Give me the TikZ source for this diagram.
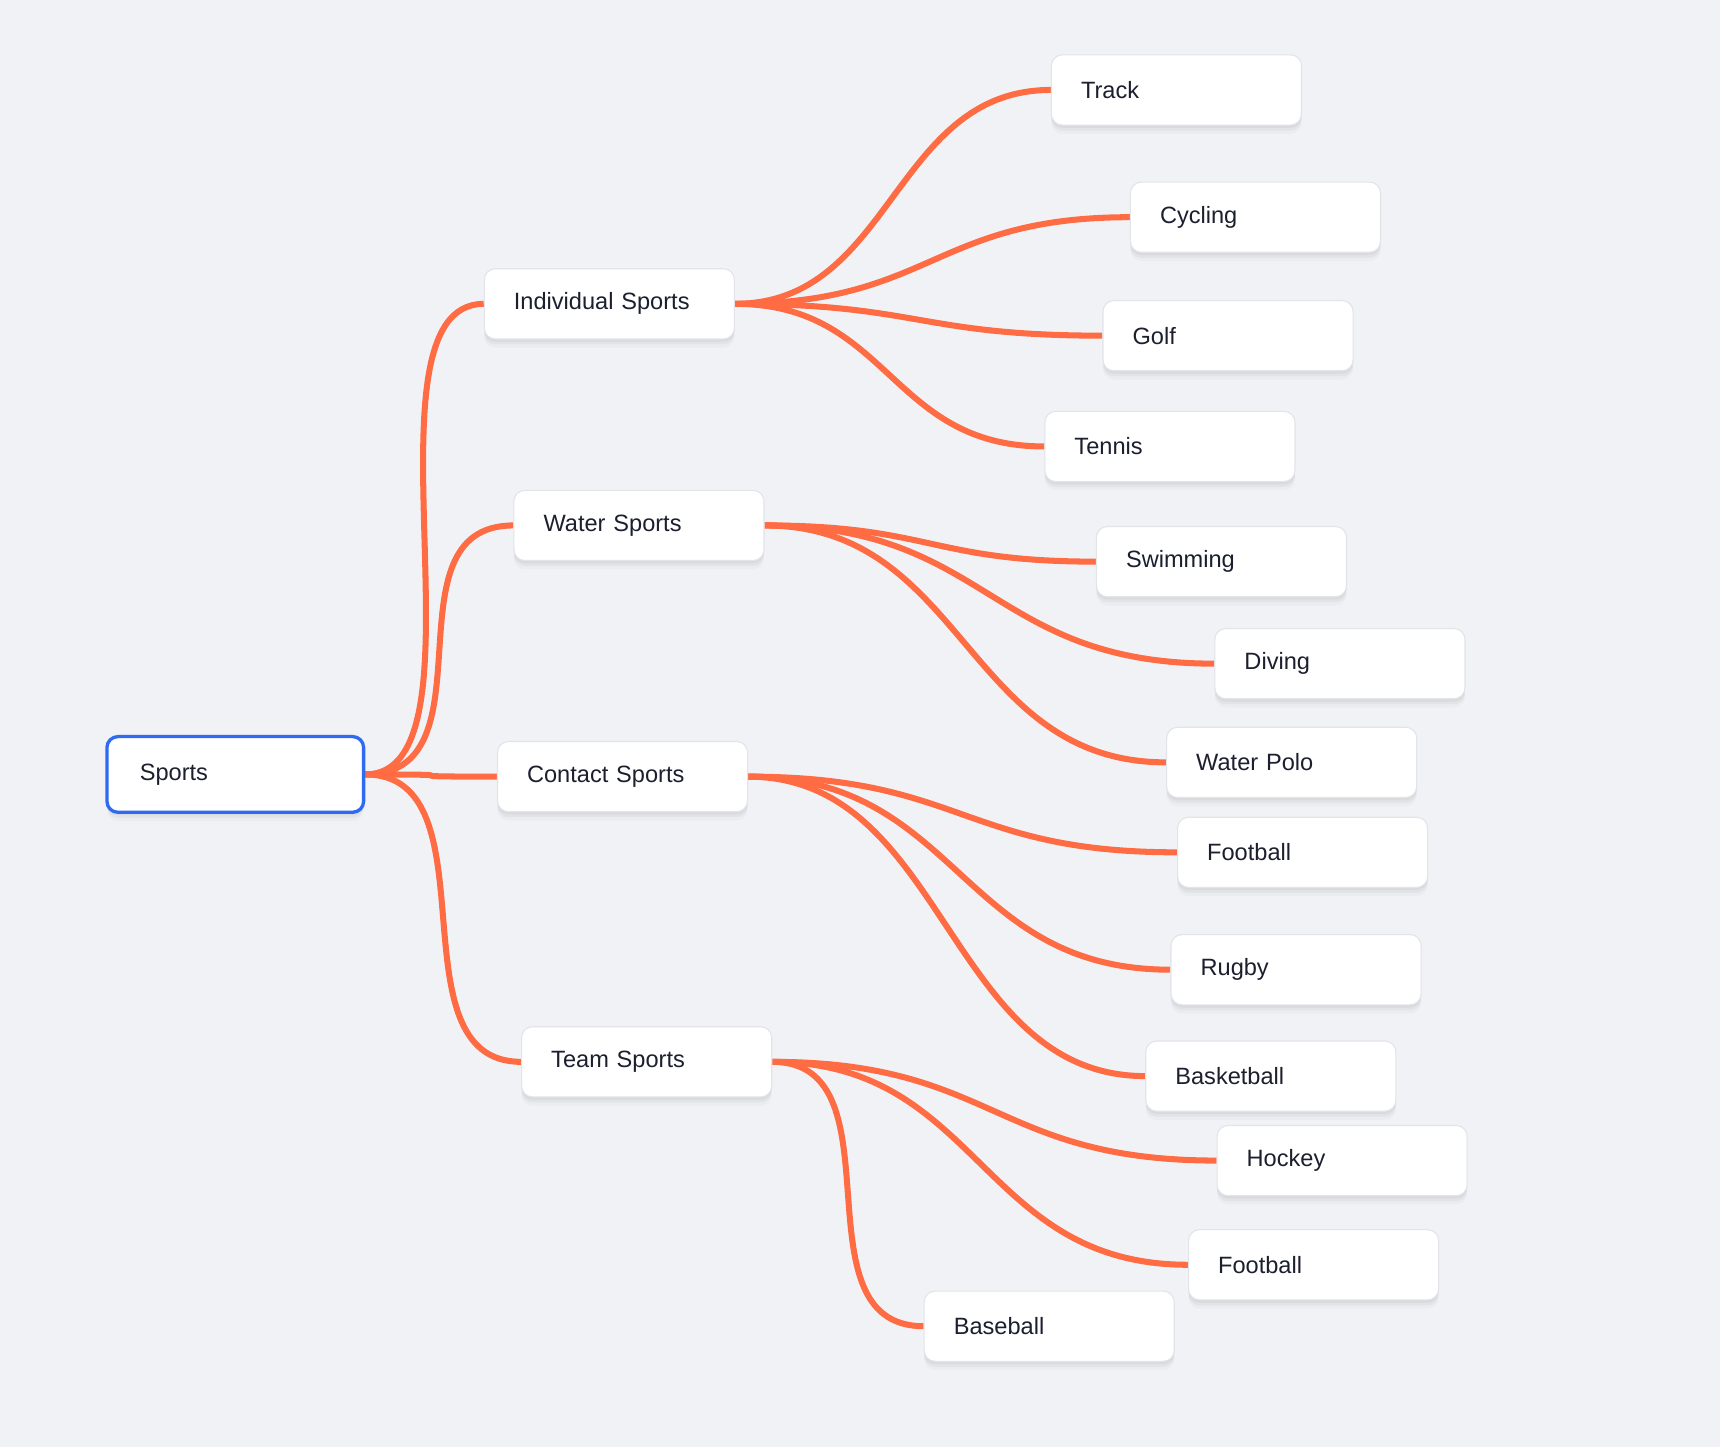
\documentclass[tikz,border=0pt]{standalone}
\usepackage{fontspec}
\setmainfont{Liberation Sans}
\usetikzlibrary{calc}
\definecolor{bgc}{HTML}{F0F2F6}
\definecolor{edgec}{HTML}{FF6B42}
\definecolor{txtc}{HTML}{1B1F2E}
\definecolor{bordc}{HTML}{E2E4EA}
\definecolor{rootc}{HTML}{2F6BF0}
\pgfdeclarelayer{bglayer}
\pgfdeclarelayer{edgelayer}
\pgfsetlayers{bglayer,edgelayer,main}
\tikzset{
  leaf/.style={draw=bordc, line width=1pt, fill=white, rounded corners=10pt,
    minimum width=228pt, minimum height=64pt, text width=174pt, inner xsep=27pt,
    inner ysep=0pt, align=left, anchor=west, text=txtc,
    font=\fontsize{21.5pt}{24pt}\selectfont,
    preaction={draw=none, fill=black, fill opacity=0.025, transform canvas={yshift=-8pt}},
    preaction={draw=none, fill=black, fill opacity=0.035, transform canvas={yshift=-5pt}},
    preaction={draw=none, fill=black, fill opacity=0.04, transform canvas={yshift=-2.5pt}}},
  rootnode/.style={leaf, draw=rootc, line width=3pt, minimum width=234pt,
    minimum height=69pt, text width=174pt, inner xsep=30pt},
  edge/.style={draw=edgec, line width=5.5pt}
}
\newcommand\mmedge[2]{%
  \begin{pgfonlayer}{edgelayer}
  \draw[edge] let \p1=(#1.east), \p2=(#2.west), \n1={max(0.5*(\x2-\x1),120)} in
    (\p1) .. controls ({\x1+\n1},\y1) and ({\x2-\n1},\y2) .. (\p2);
  \end{pgfonlayer}}
\begin{document}
\begin{tikzpicture}[x=1pt,y=-1pt]
\begin{pgfonlayer}{bglayer}
\fill[bgc] (0,0) rectangle (1568,1319);
\end{pgfonlayer}
\useasboundingbox (0,0) rectangle (1568,1319);
% root
\node[rootnode] (sports) at (96,706) {Sports};
% level 1
\node[leaf] (ind) at (441,277) {Individual Sports};
\node[leaf] (wat) at (468,479) {Water Sports};
\node[leaf] (con) at (453,708) {Contact Sports};
\node[leaf] (team) at (475,968) {Team Sports};
% level 2
\node[leaf] (track) at (958,82) {Track};
\node[leaf] (cyc) at (1030,198) {Cycling};
\node[leaf] (golf) at (1005,306) {Golf};
\node[leaf] (ten) at (952,407) {Tennis};
\node[leaf] (swim) at (999,512) {Swimming};
\node[leaf] (div) at (1107,605) {Diving};
\node[leaf] (polo) at (1063,695) {Water Polo};
\node[leaf] (foot) at (1073,777) {Football};
\node[leaf] (rug) at (1067,884) {Rugby};
\node[leaf] (bask) at (1044,981) {Basketball};
\node[leaf] (hock) at (1109,1058) {Hockey};
\node[leaf] (foot2) at (1083,1153) {Football};
\node[leaf] (base) at (842,1209) {Baseball};
% edges
\mmedge{sports}{ind}
\mmedge{sports}{wat}
\mmedge{sports}{con}
\mmedge{sports}{team}
\mmedge{ind}{track}
\mmedge{ind}{cyc}
\mmedge{ind}{golf}
\mmedge{ind}{ten}
\mmedge{wat}{swim}
\mmedge{wat}{div}
\mmedge{wat}{polo}
\mmedge{con}{foot}
\mmedge{con}{rug}
\mmedge{con}{bask}
\mmedge{team}{hock}
\mmedge{team}{foot2}
\mmedge{team}{base}
\end{tikzpicture}
\end{document}
